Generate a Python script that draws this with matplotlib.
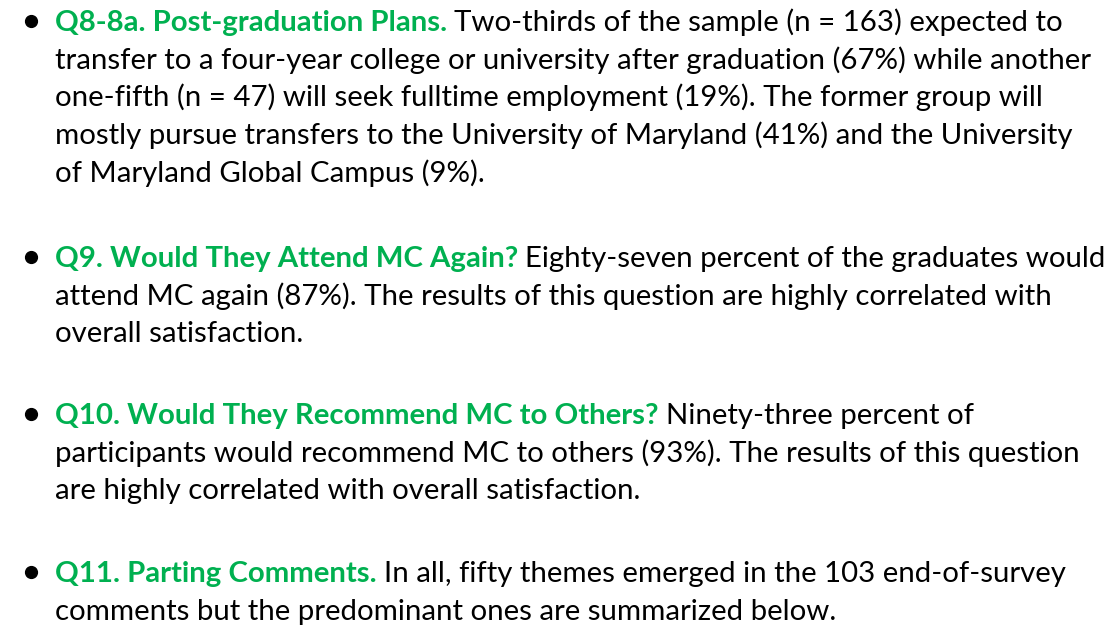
import matplotlib.pyplot as plt

GREEN = '#00b050'
FONT = ['Lato', 'DejaVu Sans']

headings = [
    "Q8-8a. Post-graduation Plans.",
    "Q9. Would They Attend MC Again?",
    "Q10. Would They Recommend MC to Others?",
    "Q11. Parting Comments.",
]
first_lines = [
    "Two-thirds of the sample (n = 163) expected to",
    "Eighty-seven percent of the graduates would",
    "Ninety-three percent of",
    "In all, fifty themes emerged in the 103 end-of-survey",
]
more_lines = [
    ["transfer to a four-year college or university after graduation (67%) while another",
     "one-fifth (n = 47) will seek fulltime employment (19%). The former group will",
     "mostly pursue transfers to the University of Maryland (41%) and the University",
     "of Maryland Global Campus (9%)."],
    ["attend MC again (87%). The results of this question are highly correlated with",
     "overall satisfaction."],
    ["participants would recommend MC to others (93%). The results of this question",
     "are highly correlated with overall satisfaction."],
    ["comments but the predominant ones are summarized below."],
]
block_top = [31, 267, 424, 582]   # baseline of first line, px from top

line_gap = 37.7
x_bullet = 31
x_text = 55
fs = 21.2

fig = plt.figure(figsize=(11.11, 6.27), dpi=100)
ax = fig.add_axes([0, 0, 1, 1])
ax.set_xlim(0, 1111)
ax.set_ylim(627, 0)
ax.axis('off')
fig.canvas.draw()
renderer = fig.canvas.get_renderer()

for head, first, rest, y0 in zip(headings, first_lines, more_lines, block_top):
    ax.plot([x_bullet], [y0 - 10], 'o', color='black', ms=8.5)
    t = ax.text(x_text, y0, head, color=GREEN, fontsize=fs, fontweight='bold',
                family=FONT, va='baseline', ha='left')
    bb = t.get_window_extent(renderer)
    ax.text(bb.x1 + 7, y0, first, color='black', fontsize=fs, family=FONT,
            va='baseline', ha='left')
    for i, line in enumerate(rest):
        ax.text(x_text, y0 + (i + 1) * line_gap, line, color='black', fontsize=fs,
                family=FONT, va='baseline', ha='left')

fig.savefig('out.png', dpi=100, facecolor='white')
